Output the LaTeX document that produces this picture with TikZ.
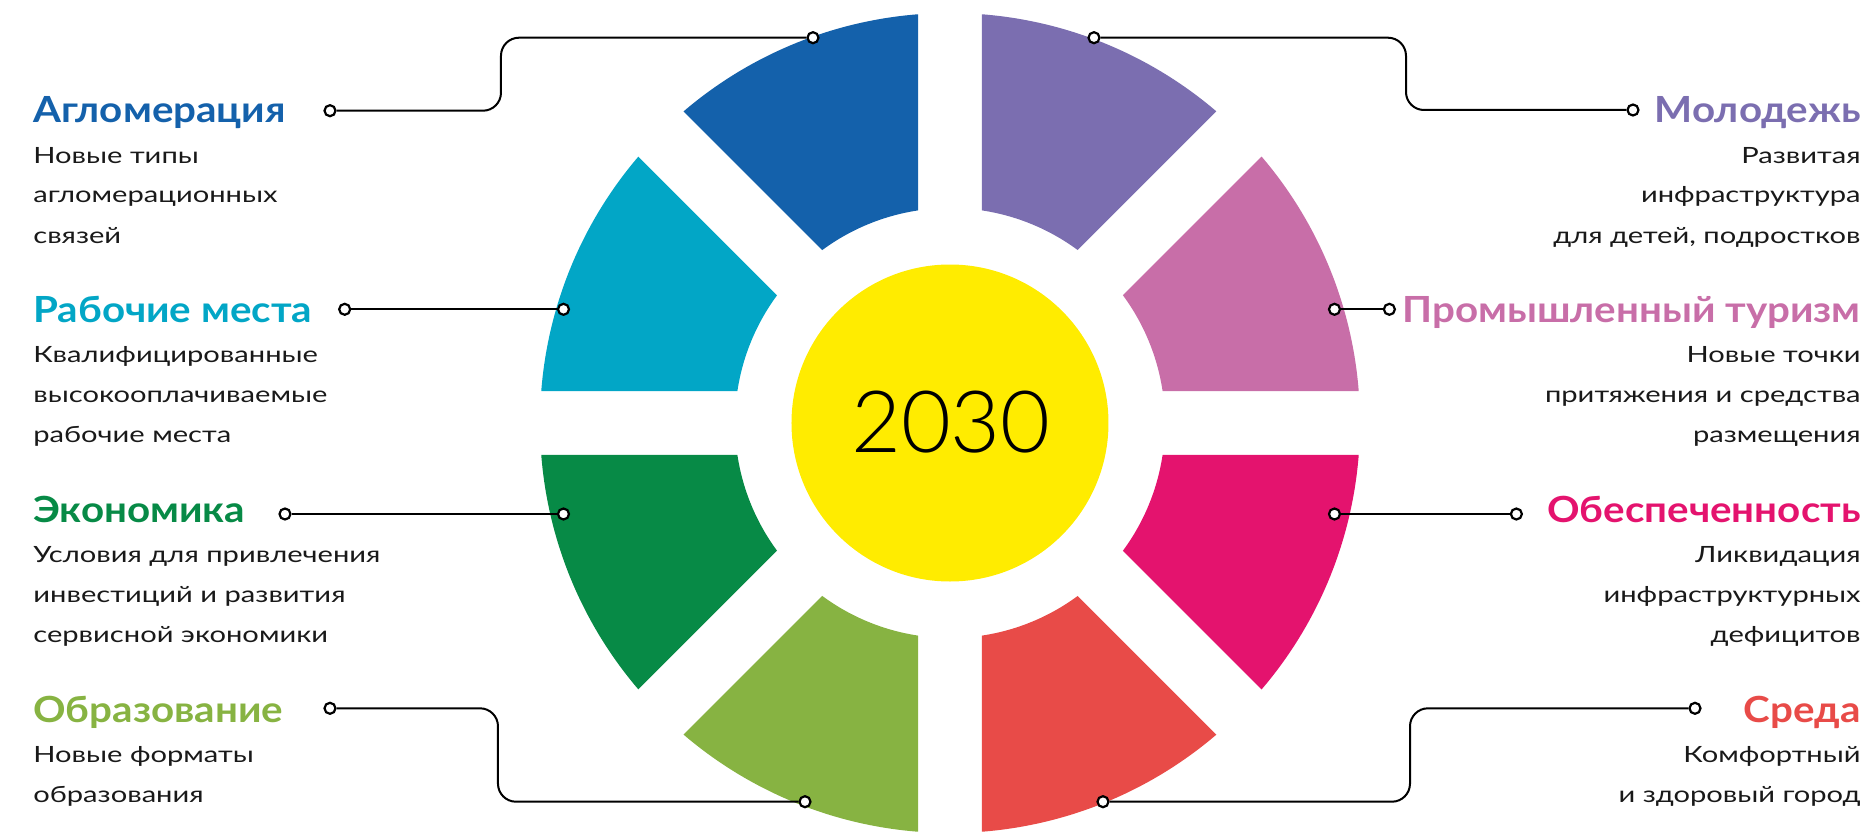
\documentclass[tikz,border=0pt]{standalone}
\usepackage{fontspec}
\setmainfont{Lato}
\newfontfamily\yearfont{Lato Light}
\newfontfamily\titlefont{Lato}[FakeStretch=1.12]
\newfontfamily\bodyfont{Lato}[FakeStretch=1.3]
\definecolor{cblue}{HTML}{1461AB}
\definecolor{cpurple}{HTML}{7B6EB0}
\definecolor{cpink}{HTML}{C86EA8}
\definecolor{cmagenta}{HTML}{E4136E}
\definecolor{cred}{HTML}{E84B48}
\definecolor{clgreen}{HTML}{87B342}
\definecolor{cdgreen}{HTML}{078A46}
\definecolor{ccyan}{HTML}{02A6C6}
\definecolor{cyellow}{HTML}{FFEC00}
\begin{document}
\begin{tikzpicture}[x=0.5pt,y=0.5pt,
  title/.style={font=\titlefont\bfseries\fontsize{18}{20}\selectfont, inner sep=0},
  body/.style={font=\bodyfont\fontsize{11.2}{20}\selectfont, inner sep=0, text=black!90},
  dot/.style={circle, draw, fill=white, line width=1.1pt, inner sep=0, minimum size=5.5pt},
  link/.style={line width=1pt, rounded corners=9pt}]
\useasboundingbox (-950,-408) rectangle (920,423);

\fill[cpink] (4.476:410) arc[start angle=4.476, end angle=40.524, radius=410] -- (36.441:215) arc[start angle=36.441, end angle=8.559, radius=215] -- cycle;
\fill[cpurple] (49.476:410) arc[start angle=49.476, end angle=85.524, radius=410] -- (81.441:215) arc[start angle=81.441, end angle=53.559, radius=215] -- cycle;
\fill[cblue] (94.476:410) arc[start angle=94.476, end angle=130.524, radius=410] -- (126.441:215) arc[start angle=126.441, end angle=98.559, radius=215] -- cycle;
\fill[ccyan] (139.476:410) arc[start angle=139.476, end angle=175.524, radius=410] -- (171.441:215) arc[start angle=171.441, end angle=143.559, radius=215] -- cycle;
\fill[cdgreen] (184.476:410) arc[start angle=184.476, end angle=220.524, radius=410] -- (216.441:215) arc[start angle=216.441, end angle=188.559, radius=215] -- cycle;
\fill[clgreen] (229.476:410) arc[start angle=229.476, end angle=265.524, radius=410] -- (261.441:215) arc[start angle=261.441, end angle=233.559, radius=215] -- cycle;
\fill[cred] (274.476:410) arc[start angle=274.476, end angle=310.524, radius=410] -- (306.441:215) arc[start angle=306.441, end angle=278.559, radius=215] -- cycle;
\fill[cmagenta] (319.476:410) arc[start angle=319.476, end angle=355.524, radius=410] -- (351.441:215) arc[start angle=351.441, end angle=323.559, radius=215] -- cycle;

\fill[cyellow] (0,0) circle[radius=158.5];
\node[font=\yearfont\fontsize{43}{46}\selectfont, inner sep=0] (year) at (1,1) {2030};

% left column
\node[title, text=cblue, anchor=base west] (agl) at (-917,300) {Агломерация};
\node[body, anchor=base west] (agl-txt) at (-917,260) {\begin{tabular}[t]{@{}l@{}}Новые типы\\агломерационных\\связей\end{tabular}};
\node[title, text=ccyan, anchor=base west] (rab) at (-917,101) {Рабочие места};
\node[body, anchor=base west] (rab-txt) at (-917,61) {\begin{tabular}[t]{@{}l@{}}Квалифицированные\\высокооплачиваемые\\рабочие места\end{tabular}};
\node[title, text=cdgreen, anchor=base west] (eko) at (-917,-99) {Экономика};
\node[body, anchor=base west] (eko-txt) at (-917,-139) {\begin{tabular}[t]{@{}l@{}}Условия для привлечения\\инвестиций и развития\\сервисной экономики\end{tabular}};
\node[title, text=clgreen, anchor=base west] (obr) at (-917,-299) {Образование};
\node[body, anchor=base west] (obr-txt) at (-917,-339) {\begin{tabular}[t]{@{}l@{}}Новые форматы\\образования\end{tabular}};

% right column
\node[title, text=cpurple, anchor=base east] (mol) at (911,300) {Молодежь};
\node[body, anchor=base east] (mol-txt) at (911,260) {\begin{tabular}[t]{@{}r@{}}Развитая\\инфраструктура\\для детей, подростков\end{tabular}};
\node[title, text=cpink, anchor=base east] (pro) at (911,101) {Промышленный туризм};
\node[body, anchor=base east] (pro-txt) at (911,61) {\begin{tabular}[t]{@{}r@{}}Новые точки\\притяжения и средства\\размещения\end{tabular}};
\node[title, text=cmagenta, anchor=base east] (obe) at (911,-99) {Обеспеченность};
\node[body, anchor=base east] (obe-txt) at (911,-139) {\begin{tabular}[t]{@{}r@{}}Ликвидация\\инфраструктурных\\дефицитов\end{tabular}};
\node[title, text=cred, anchor=base east] (sre) at (911,-299) {Среда};
\node[body, anchor=base east] (sre-txt) at (911,-339) {\begin{tabular}[t]{@{}r@{}}Комфортный\\и здоровый город\end{tabular}};

% connectors
\node[dot] (agl-a) at (-137,385.3) {};
\node[dot] (agl-b) at (-620,312.3) {};
\coordinate (agl-k) at (-449,0);
\draw[link] (agl-b) -| (agl-k |- agl-a) -- (agl-a);

\node[dot] (rab-a) at (-386.5,113.7) {};
\node[dot] (rab-b) at (-605.3,113.7) {};
\draw[link] (rab-b) -- (rab-a);

\node[dot] (eko-a) at (-386.5,-91) {};
\node[dot] (eko-b) at (-665,-91) {};
\draw[link] (eko-b) -- (eko-a);

\node[dot] (obr-a) at (-145,-378.7) {};
\node[dot] (obr-b) at (-620,-285.3) {};
\coordinate (obr-k) at (-452,0);
\draw[link] (obr-b) -| (obr-k |- obr-a) -- (obr-a);

\node[dot] (mol-a) at (144,385.3) {};
\node[dot] (mol-b) at (683,313) {};
\coordinate (mol-k) at (456,0);
\draw[link] (mol-a) -| (mol-k |- mol-b) -- (mol-b);

\node[dot] (pro-a) at (384.5,113.7) {};
\node[dot] (pro-b) at (439.4,113.7) {};
\draw[link] (pro-a) -- (pro-b);

\node[dot] (obe-a) at (384.5,-91) {};
\node[dot] (obe-b) at (566.4,-91) {};
\draw[link] (obe-a) -- (obe-b);

\node[dot] (sre-a) at (153,-378.7) {};
\node[dot] (sre-b) at (745,-285.3) {};
\coordinate (sre-k) at (460,0);
\draw[link] (sre-b) -| (sre-k |- sre-a) -- (sre-a);
\end{tikzpicture}
\end{document}
